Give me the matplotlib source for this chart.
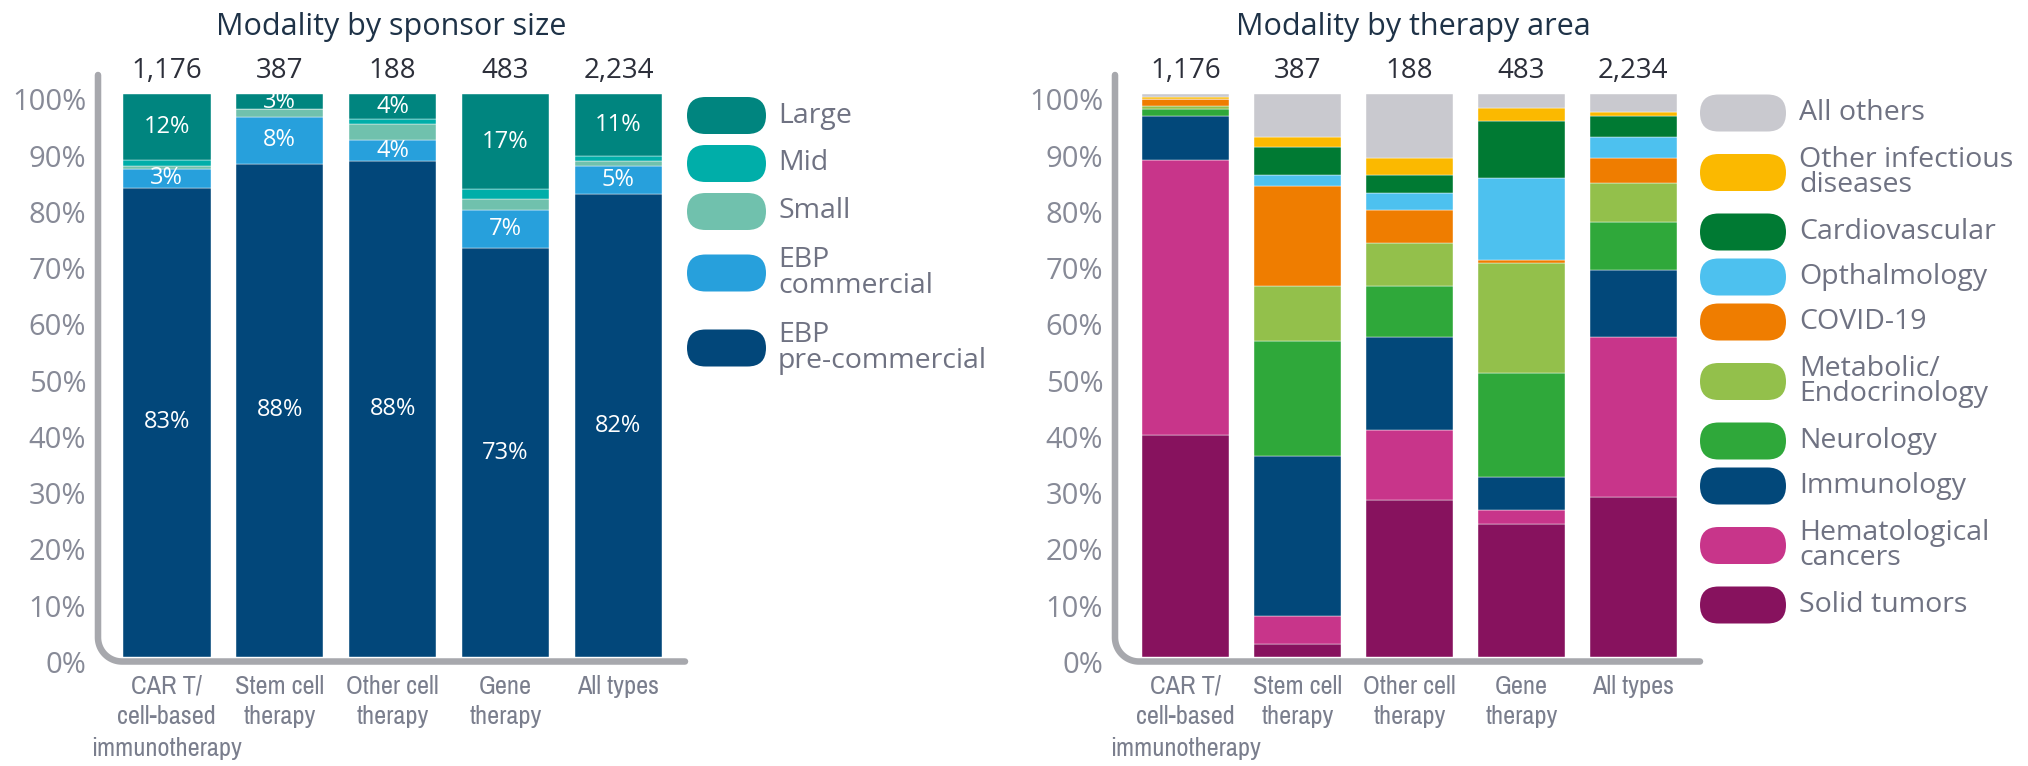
import matplotlib
matplotlib.use("Agg")
import matplotlib.pyplot as plt
from matplotlib import font_manager
from matplotlib.font_manager import FontProperties
from matplotlib.lines import Line2D
from matplotlib.patches import FancyBboxPatch
from matplotlib.transforms import ScaledTranslation, blended_transform_factory
import numpy as np

# ---- data ----
categories = ["CAR T/\ncell-based\nimmunotherapy", "Stem cell\ntherapy",
              "Other cell\ntherapy", "Gene\ntherapy", "All types"]
counts = [1176, 387, 188, 483, 2234]

# sponsor size (bottom -> top)
sponsor_labels = ["EBP\npre-commercial", "EBP\ncommercial", "Small", "Mid", "Large"]
ebp_precommercial = [83.4, 87.7, 88.2, 72.6, 82.2]
ebp_commercial = [3.3, 8.2, 3.6, 6.9, 5.1]
small = [0.6, 1.4, 3.0, 1.9, 0.9]
mid = [1.0, 0.0, 0.8, 1.8, 0.9]
large = [11.7, 2.7, 4.4, 16.8, 10.9]
sponsor_colors = ["#02477a", "#27a0dc", "#70c1ad", "#00aea9", "#00857f"]
sponsor_labelled = [True, True, False, False, True]

# therapy area (bottom -> top)
therapy_labels = ["Solid tumors", "Hematological\ncancers", "Immunology", "Neurology",
                  "Metabolic/\nEndocrinology", "COVID-19", "Opthalmology",
                  "Cardiovascular", "Other infectious\ndiseases", "All others"]
solid_tumors = [39.4, 2.3, 27.9, 23.6, 28.4]
hematological = [49.0, 5.0, 12.5, 2.5, 28.4]
immunology = [7.7, 28.4, 16.4, 5.9, 11.9]
neurology = [1.3, 20.5, 9.1, 18.4, 8.6]
metabolic = [0.5, 9.7, 7.7, 19.7, 6.9]
covid = [1.3, 17.8, 5.9, 0.5, 4.5]
opthalmology = [0.0, 1.9, 2.9, 14.6, 3.8]
cardiovascular = [0.0, 5.0, 3.2, 10.0, 3.6]
other_infectious = [0.3, 1.8, 3.1, 2.3, 0.8]
all_others = [0.5, 7.6, 11.3, 2.5, 3.1]
therapy_colors = ["#87125e", "#c8358a", "#02487a", "#2fa83a", "#93c04b",
                  "#ef7d00", "#4dc1ef", "#007a33", "#fbb900", "#c9c9cf"]

sponsor_series = [ebp_precommercial, ebp_commercial, small, mid, large]
therapy_series = [solid_tumors, hematological, immunology, neurology, metabolic,
                  covid, opthalmology, cardiovascular, other_infectious, all_others]

# ---- fonts ----
# category labels use a narrow face if one is installed, else Roboto
cond_prop = None
for f in font_manager.fontManager.ttflist:
    if (("Narrow" in f.name or "Condensed" in f.name) and f.style == "normal"
            and f.weight in (400, "normal", "regular")):
        cond_prop = FontProperties(fname=f.fname, size=19)
        break
if cond_prop is None:
    cond_prop = FontProperties(family="Roboto", size=16)

plt.rcParams["font.family"] = ["Open Sans", "DejaVu Sans"]

W, H = 2028, 766
fig = plt.figure(figsize=(W / 100, H / 100), dpi=100)
fig.patch.set_facecolor("white")

tick_grey = "#878a97"
label_grey = "#7a7e8d"
axis_grey = "#a7a8ad"


def add_axes_px(x0, x1, ytop, ybot):
    return fig.add_axes([x0 / W, 1 - ybot / H, (x1 - x0) / W, (ybot - ytop) / H])


def px_shift(dy):
    return ScaledTranslation(0, dy / 100, fig.dpi_scale_trans)


def draw_axis_line(xv, ytop, yh, xend, r=24):
    # L-shaped axis with a rounded corner, in pixels
    th = np.linspace(np.pi, 1.5 * np.pi, 30)
    cx, cy = xv + r, yh - r
    xs = [xv, xv] + list(cx + r * np.cos(th)) + [xend]
    ys = [ytop, yh - r] + list(cy - r * np.sin(th)) + [yh]
    xs = np.array(xs) / 100
    ys = (H - np.array(ys)) / 100
    fig.add_artist(Line2D(xs, ys, transform=fig.dpi_scale_trans, color=axis_grey,
                          lw=4.7, solid_capstyle="round", solid_joinstyle="round"))


def draw_legend(labels, colors, x_patch, w_patch, x_text, y_first, line_h, gap):
    y = y_first
    for lab, col in zip(labels[::-1], colors[::-1]):
        n = lab.count("\n") + 1
        yc = y + n * line_h / 2
        h = 37
        fig.add_artist(FancyBboxPatch(
            (x_patch / 100, (H - yc - h / 2) / 100), w_patch / 100, h / 100,
            boxstyle=f"round,pad=0,rounding_size={h / 200}",
            transform=fig.dpi_scale_trans, facecolor=col, edgecolor="none"))
        fig.text(x_text / W, 1 - yc / H, lab, ha="left", va="center",
                 fontsize=20.5, color="#6f7282", linespacing=0.9)
        y += n * line_h + gap


def stacked(ax, series, colors, labelled, xlim):
    x = np.arange(len(categories))
    bottom = np.zeros(len(categories))
    for vals, col, lab in zip(series, colors, labelled):
        vals = np.array(vals)
        ax.bar(x, vals, bottom=bottom, width=0.775, color=col,
               edgecolor="white", linewidth=0.3)
        if lab:
            for xi, b, v in zip(x, bottom, vals):
                ax.text(xi, b + v / 2, f"{v:.0f}%", ha="center", va="center",
                        color="white", fontsize=17)
        bottom += vals
    for xi, c in zip(x, counts):
        ax.text(xi, 100, f"{c:,}", ha="center", va="baseline", color="#2c2f3a",
                fontsize=20, transform=ax.transData + px_shift(16))
    ax.set_xlim(*xlim)
    ax.set_ylim(0, 100)
    ax.set_yticks(range(0, 101, 10))
    ax.set_yticklabels([f"{v}%" for v in range(0, 101, 10)])
    ax.tick_params(axis="y", length=0, pad=8.5, labelsize=21, labelcolor=tick_grey)
    for t in ax.get_yticklabels():
        t.set_transform(t.get_transform() + px_shift(-5))
    ax.set_xticks([])
    # category labels, one text per line
    trans = blended_transform_factory(ax.transData, ax.transAxes)
    for xi, cat in zip(x, categories):
        for j, line in enumerate(cat.split("\n")):
            ax.text(xi, 0, line, ha="center", va="center", color=label_grey,
                    fontproperties=cond_prop,
                    transform=trans + px_shift(-(29 + 31 * j)))
    for s in ax.spines.values():
        s.set_visible(False)
    ax.patch.set_visible(False)


# left chart
ax1 = add_axes_px(98, 685, 94.3, 657)
stacked(ax1, sponsor_series, sponsor_colors, sponsor_labelled, (-0.61, 4.59))
draw_axis_line(98, 75, 661.5, 685)
fig.text(391 / W, 1 - 35 / H, "Modality by sponsor size", ha="center", va="baseline",
         fontsize=22, color="#1e3247")
draw_legend(sponsor_labels, sponsor_colors, 687, 79, 778, 102, 27, 21)

# right chart
ax2 = add_axes_px(1115, 1700, 94.3, 657)
stacked(ax2, therapy_series, therapy_colors, [False] * len(therapy_series), (-0.632, 4.596))
draw_axis_line(1115, 75, 661.5, 1700)
fig.text(1413 / W, 1 - 35 / H, "Modality by therapy area", ha="center", va="baseline",
         fontsize=22, color="#1e3247")
draw_legend(therapy_labels, therapy_colors, 1700, 86, 1799, 98.5, 29, 16)

fig.savefig("out.png", dpi=100)
